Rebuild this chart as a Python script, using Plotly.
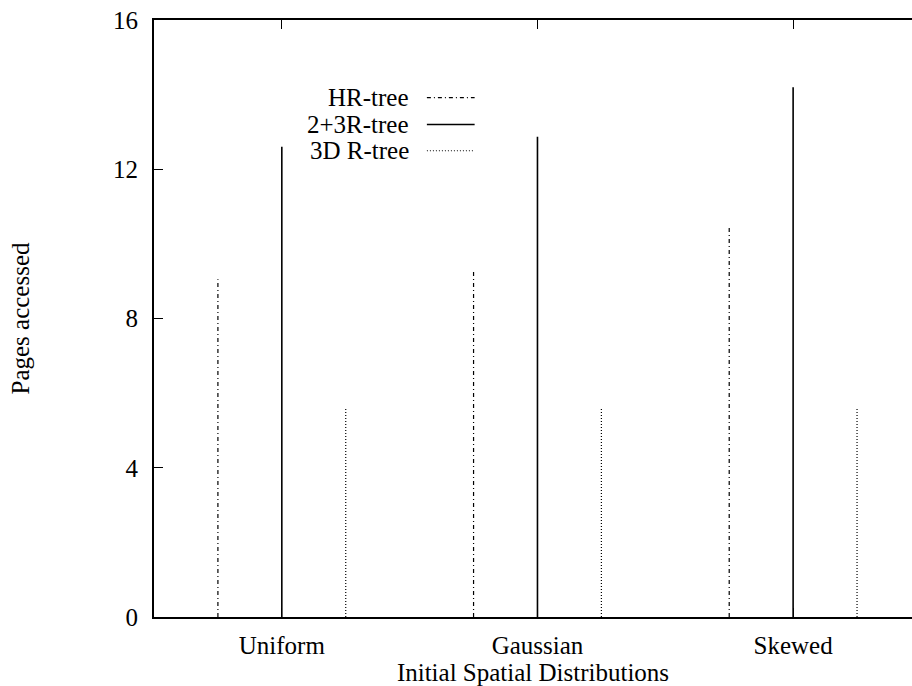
import plotly.graph_objects as go

categories = ["Uniform", "Gaussian", "Skewed"]
series_names = ["HR-tree", "2+3R-tree", "3D R-tree"]
hr_tree = [9.05, 9.3, 10.45]
r23_tree = [12.6, 12.87, 14.2]
r3d_tree = [5.6, 5.6, 5.6]
y_ticks = [0, 4, 8, 12, 16]

series_values = [hr_tree, r23_tree, r3d_tree]
offsets = [-0.25, 0.0, 0.25]
dashes = ["4px,3px,1px,3px", "solid", "1px,2px"]
widths = [1.2, 1.6, 1.2]

FONT = "Liberation Serif"
FS = 25

fig = go.Figure()
for name, vals, off, dash, w in zip(series_names, series_values, offsets, dashes, widths):
    xs, ys = [], []
    for i, v in enumerate(vals):
        xs += [i + off, i + off, None]
        ys += [0, v, None]
    fig.add_trace(go.Scatter(x=xs, y=ys, mode="lines", name=name,
                             line=dict(color="black", width=w, dash=dash),
                             showlegend=False, hoverinfo="skip"))

# legend (text left of sample line, as in gnuplot)
leg_rows = [0.87, 0.825, 0.781]
for name, dash, w, yy in zip(series_names, dashes, widths, leg_rows):
    fig.add_annotation(x=0.339, y=yy, xref="paper", yref="paper", text=name,
                       showarrow=False, xanchor="right", yanchor="middle",
                       font=dict(family=FONT, size=FS, color="black"))
    fig.add_shape(type="line", xref="paper", yref="paper", x0=0.360, x1=0.423,
                  y0=yy, y1=yy, line=dict(color="black", width=w, dash=dash))

fig.update_layout(
    width=912, height=686,
    margin=dict(l=154, r=0, t=20, b=69),
    plot_bgcolor="white", paper_bgcolor="white",
    font=dict(family=FONT, size=FS, color="black"),
    xaxis=dict(range=[-0.5, 2.465], tickvals=list(range(len(categories))),
               ticktext=categories, ticks="inside", ticklen=9, tickcolor="black",
               showline=True, linecolor="black", linewidth=2, mirror="ticks",
               showgrid=False, zeroline=False, ticklabelstandoff=5,
               title=dict(text="Initial Spatial Distributions", standoff=0,
                          font=dict(family=FONT, size=FS)),
               tickfont=dict(family=FONT, size=FS)),
    yaxis=dict(range=[0, 16], tickvals=y_ticks, ticks="inside", ticklen=9,
               tickcolor="black", showline=True, linecolor="black", linewidth=2,
               showgrid=False, zeroline=False, ticklabelstandoff=9,
               title=dict(text="Pages accessed", standoff=76,
                          font=dict(family=FONT, size=FS)),
               tickfont=dict(family=FONT, size=FS)),
)

fig.write_html("out.html", config={"displayModeBar": False},
               post_script="document.body.style.margin='0';")
